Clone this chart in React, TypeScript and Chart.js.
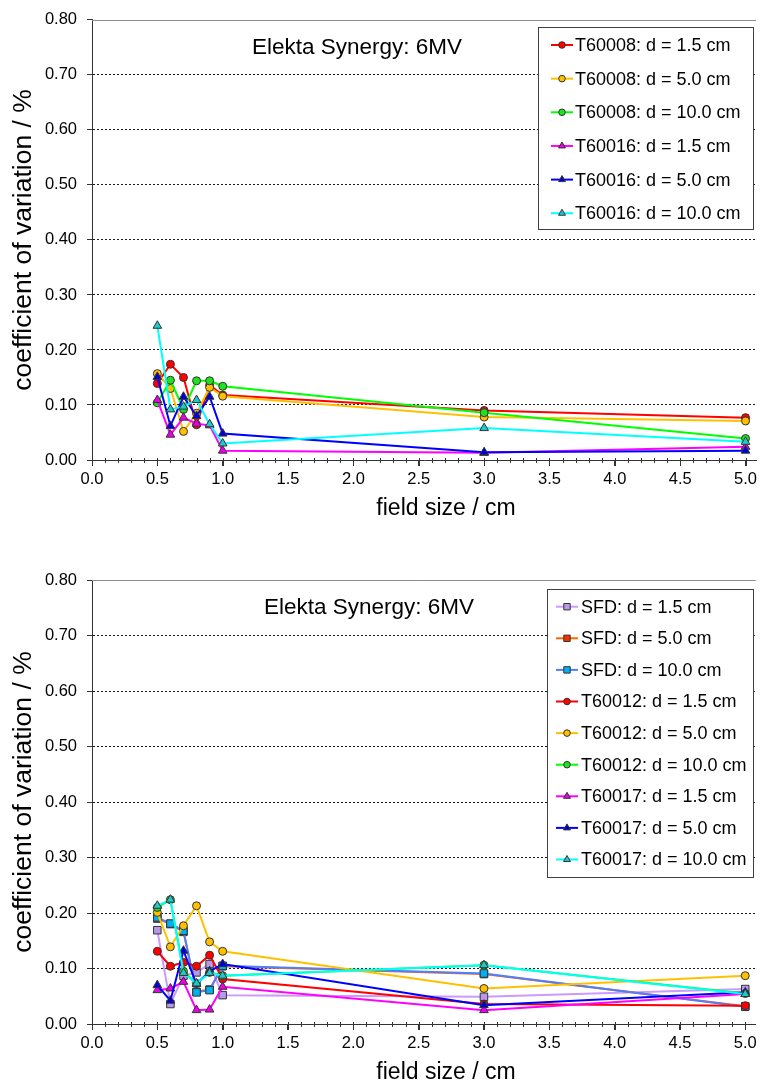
import React, { useEffect, useRef } from "react";
import { Chart, registerables } from "chart.js";
Chart.register(...registerables);

const FONT = "'Liberation Sans', Arial, sans-serif";
Chart.defaults.font.family = FONT;

// ---------- data ----------
const fieldSizes = [0.5, 0.6, 0.7, 0.8, 0.9, 1.0, 3.0, 5.0];
const xTickValues = [0, 0.5, 1.0, 1.5, 2.0, 2.5, 3.0, 3.5, 4.0, 4.5, 5.0];
const xTickLabels = ["0.0", "0.5", "1.0", "1.5", "2.0", "2.5", "3.0", "3.5", "4.0", "4.5", "5.0"];
const yTickValues = [0, 0.1, 0.2, 0.3, 0.4, 0.5, 0.6, 0.7, 0.8];
const yTickLabels = ["0.00", "0.10", "0.20", "0.30", "0.40", "0.50", "0.60", "0.70", "0.80"];

const chartTitle = "Elekta Synergy: 6MV";
const xAxisTitle = "field size / cm";
const yAxisTitle = "coefficient of variation / %";

// top chart
const topLabels = [
  "T60008: d = 1.5 cm",
  "T60008: d = 5.0 cm",
  "T60008: d = 10.0 cm",
  "T60016: d = 1.5 cm",
  "T60016: d = 5.0 cm",
  "T60016: d = 10.0 cm",
];
const t60008_d15 = [0.139, 0.174, 0.150, 0.064, 0.136, 0.118, 0.090, 0.077];
const t60008_d50 = [0.157, 0.130, 0.052, 0.085, 0.132, 0.116, 0.078, 0.071];
const t60008_d100 = [0.104, 0.145, 0.092, 0.144, 0.144, 0.134, 0.086, 0.039];
const t60016_d15 = [0.109, 0.046, 0.077, 0.066, 0.063, 0.017, 0.013, 0.024];
const t60016_d50 = [0.151, 0.062, 0.115, 0.080, 0.115, 0.048, 0.014, 0.017];
const t60016_d100 = [0.244, 0.092, 0.097, 0.109, 0.065, 0.030, 0.058, 0.033];

// bottom chart
const bottomLabels = [
  "SFD: d = 1.5 cm",
  "SFD: d = 5.0 cm",
  "SFD: d = 10.0 cm",
  "T60012: d = 1.5 cm",
  "T60012: d = 5.0 cm",
  "T60012: d = 10.0 cm",
  "T60017: d = 1.5 cm",
  "T60017: d = 5.0 cm",
  "T60017: d = 10.0 cm",
];
const sfd_d15 = [0.169, 0.036, 0.087, 0.093, 0.108, 0.052, 0.049, 0.063];
const sfd_d50 = [0.190, 0.180, 0.166, 0.058, 0.062, 0.104, 0.090, 0.032];
const sfd_d100 = [0.192, 0.181, 0.168, 0.057, 0.061, 0.105, 0.091, 0.031];
const t60012_d15 = [0.131, 0.104, 0.111, 0.104, 0.124, 0.081, 0.036, 0.033];
const t60012_d50 = [0.201, 0.139, 0.177, 0.213, 0.148, 0.131, 0.064, 0.087];
const t60012_d100 = [0.210, 0.224, 0.095, 0.073, 0.093, 0.087, 0.106, 0.055];
const t60017_d15 = [0.061, 0.064, 0.076, 0.025, 0.026, 0.067, 0.025, 0.054];
const t60017_d50 = [0.070, 0.042, 0.132, 0.072, 0.095, 0.108, 0.034, 0.057];
const t60017_d100 = [0.213, 0.224, 0.092, 0.073, 0.092, 0.087, 0.106, 0.054];

// ---------- styles ----------
type Sty = { line: string; fill: string; shape: string; r: number };
const S = {
  red: { line: "#ff0000", fill: "#ff0000", shape: "circle", r: 4 },
  gold: { line: "#ffc000", fill: "#ffc000", shape: "circle", r: 4 },
  green: { line: "#00ff00", fill: "#20e020", shape: "circle", r: 4 },
  magenta: { line: "#ff00ff", fill: "#e800e8", shape: "triangle", r: 5 },
  blue: { line: "#0000ff", fill: "#0000d8", shape: "triangle", r: 5 },
  cyan: { line: "#00ffff", fill: "#20c8c8", shape: "triangle", r: 5 },
  lav: { line: "#cc99ff", fill: "#b898e8", shape: "rect", r: 5.3 },
  orange: { line: "#ff6600", fill: "#f03000", shape: "rect", r: 5.3 },
  sky: { line: "#4f7fff", fill: "#00b0f0", shape: "rect", r: 5.3 },
};
const EDGE = "#333333";

function makeDataset(label: string, values: number[], st: Sty, idx: number) {
  return {
    label,
    data: fieldSizes.map((x, i) => ({ x, y: values[i] })),
    borderColor: st.line,
    backgroundColor: st.fill,
    pointBackgroundColor: st.fill,
    pointBorderColor: EDGE,
    pointBorderWidth: 1,
    pointStyle: st.shape,
    pointRadius: st.r,
    pointHoverRadius: st.r,
    borderWidth: 2,
    tension: 0,
    fill: false,
    order: -idx,
    _sty: st,
  };
}

function drawMarker(ctx: CanvasRenderingContext2D, shape: string, x: number, y: number, r: number, fill: string) {
  ctx.save();
  ctx.beginPath();
  if (shape === "circle") {
    ctx.arc(x, y, r, 0, Math.PI * 2);
  } else if (shape === "triangle") {
    let a = 0;
    ctx.moveTo(x + Math.sin(a) * r, y - Math.cos(a) * r);
    a += (2 * Math.PI) / 3;
    ctx.lineTo(x + Math.sin(a) * r, y - Math.cos(a) * r);
    a += (2 * Math.PI) / 3;
    ctx.lineTo(x + Math.sin(a) * r, y - Math.cos(a) * r);
    ctx.closePath();
  } else {
    ctx.rect(x - r, y - r, 2 * r, 2 * r);
  }
  ctx.fillStyle = fill;
  ctx.fill();
  ctx.lineWidth = 1;
  ctx.strokeStyle = EDGE;
  ctx.stroke();
  ctx.restore();
}

const decorPlugin = {
  id: "decor",
  beforeDatasetsDraw(chart: any, _args: any, o: any) {
    const { ctx, chartArea } = chart;
    const xs = chart.scales.x;
    ctx.save();
    // top border of plot area
    ctx.strokeStyle = "#8c8c8c";
    ctx.lineWidth = 1;
    ctx.beginPath();
    ctx.moveTo(chartArea.left, Math.round(chartArea.top) + 0.5);
    ctx.lineTo(chartArea.right, Math.round(chartArea.top) + 0.5);
    ctx.stroke();
    // minor ticks on x axis
    ctx.strokeStyle = "#333";
    const yb = Math.round(chartArea.bottom);
    for (let k = 0; k <= 50; k++) {
      const px = Math.round(xs.getPixelForValue(k / 10)) + 0.5;
      const major = k % 5 === 0;
      ctx.beginPath();
      ctx.moveTo(px, yb - 2);
      ctx.lineTo(px, yb + (major ? 6 : 3));
      ctx.stroke();
    }
    ctx.restore();
  },
  afterDraw(chart: any, _args: any, o: any) {
    const { ctx, chartArea } = chart;
    ctx.save();
    ctx.fillStyle = "#000";
    // chart title
    ctx.font = `22.5px ${FONT}`;
    ctx.textAlign = "left";
    ctx.textBaseline = "middle";
    ctx.fillText(chartTitle, o.titleX, o.titleY);
    // x axis title
    ctx.font = `23px ${FONT}`;
    ctx.textAlign = "center";
    ctx.fillText(xAxisTitle, o.xTitleX, o.xTitleY);
    // y axis title
    ctx.save();
    ctx.font = `26.5px ${FONT}`;
    ctx.translate(o.yTitleX, (chartArea.top + chartArea.bottom) / 2);
    ctx.rotate(-Math.PI / 2);
    ctx.fillText(yAxisTitle, 0, 0);
    ctx.restore();
    // legend box
    const L = o.legend;
    ctx.fillStyle = "#fff";
    ctx.fillRect(L.left, L.top, L.right - L.left, L.bottom - L.top);
    ctx.strokeStyle = "#404040";
    ctx.lineWidth = 1;
    ctx.strokeRect(Math.round(L.left) + 0.5, Math.round(L.top) + 0.5, Math.round(L.right - L.left), Math.round(L.bottom - L.top));
    ctx.font = `18px ${FONT}`;
    ctx.textAlign = "left";
    ctx.textBaseline = "middle";
    chart.data.datasets.forEach((ds: any, i: number) => {
      const y = L.row0 + i * L.step;
      const st = ds._sty;
      ctx.strokeStyle = st.line;
      ctx.lineWidth = 2;
      ctx.beginPath();
      ctx.moveTo(L.lineX1, y);
      ctx.lineTo(L.lineX2, y);
      ctx.stroke();
      const mr = st.shape === "circle" ? 3.3 : st.shape === "triangle" ? 4 : 3.2;
      drawMarker(ctx, st.shape, (L.lineX1 + L.lineX2) / 2, y, mr, st.fill);
      ctx.fillStyle = "#000";
      ctx.fillText(ds.label, L.textX, y + 1);
    });
    ctx.restore();
  },
};

function buildConfig(datasets: any[], dims: any) {
  return {
    type: "line",
    data: { datasets },
    plugins: [decorPlugin],
    options: {
      responsive: false,
      animation: false,
      devicePixelRatio: 1,
      layout: { padding: { left: 0, right: 1, top: dims.padTop, bottom: dims.padBottom } },
      plugins: {
        legend: { display: false },
        tooltip: { enabled: false },
        title: { display: false },
        decor: dims.decor,
      },
      scales: {
        x: {
          type: "linear",
          min: 0,
          max: 5.08,
          afterBuildTicks: (s: any) => {
            s.ticks = xTickValues.map((v) => ({ value: v }));
          },
          afterFit: (s: any) => {
            s.height = dims.xHeight;
            s.paddingLeft = 0;
            s.paddingRight = 0;
          },
          ticks: {
            autoSkip: false,
            maxRotation: 0,
            minRotation: 0,
            padding: 4,
            color: "#000",
            font: { size: 16.5, family: FONT },
            callback: (_v: any, i: number) => xTickLabels[i],
          },
          grid: { drawOnChartArea: false, drawTicks: true, tickLength: 6, tickColor: "#333" },
          border: { color: "#333", width: 1 },
        },
        y: {
          type: "linear",
          min: 0,
          max: 0.8,
          afterBuildTicks: (s: any) => {
            s.ticks = yTickValues.map((v) => ({ value: v }));
          },
          afterFit: (s: any) => {
            s.width = 92;
          },
          ticks: {
            padding: 10,
            color: "#000",
            font: { size: 16.5, family: FONT },
            callback: (_v: any, i: number) => yTickLabels[i],
          },
          grid: {
            color: (c: any) =>
              c.tick && (c.index === 0 || c.index === yTickValues.length - 1) ? "rgba(0,0,0,0)" : "#1a1a1a",
            lineWidth: 1,
            tickLength: 5,
            tickColor: "#333",
            tickBorderDash: [],
          },
          border: { color: "#333", width: 1, dash: [2, 2] },
        },
      },
    },
  };
}

const topStyles = [S.red, S.gold, S.green, S.magenta, S.blue, S.cyan];
const topValues = [t60008_d15, t60008_d50, t60008_d100, t60016_d15, t60016_d50, t60016_d100];
const bottomStyles = [S.lav, S.orange, S.sky, S.red, S.gold, S.green, S.magenta, S.blue, S.cyan];
const bottomValues = [sfd_d15, sfd_d50, sfd_d100, t60012_d15, t60012_d50, t60012_d100, t60017_d15, t60017_d50, t60017_d100];

function ChartCanvas({ top, height, make }: { top: number; height: number; make: () => any }) {
  const ref = useRef<HTMLCanvasElement | null>(null);
  useEffect(() => {
    const chart = new Chart(ref.current as HTMLCanvasElement, make());
    return () => chart.destroy();
  }, []);
  return (
    <canvas
      ref={ref}
      width={762}
      height={height}
      style={{ position: "absolute", left: 0, top, width: 762, height, display: "block" }}
    />
  );
}

export default function App() {
  const makeTop = () =>
    buildConfig(
      topLabels.map((l, i) => makeDataset(l, topValues[i], topStyles[i], i)),
      {
        padTop: 17,
        padBottom: 10,
        xHeight: 60,
        decor: {
          titleX: 252,
          titleY: 48,
          xTitleX: 446,
          xTitleY: 509,
          yTitleX: 24,
          legend: { left: 538, top: 27, right: 753, bottom: 229, row0: 45, step: 33.65, lineX1: 551, lineX2: 573, textX: 575 },
        },
      }
    );
  const makeBottom = () =>
    buildConfig(
      bottomLabels.map((l, i) => makeDataset(l, bottomValues[i], bottomStyles[i], i)),
      {
        padTop: 50,
        padBottom: 7,
        xHeight: 50,
        decor: {
          titleX: 264,
          titleY: 78,
          xTitleX: 446,
          xTitleY: 543,
          yTitleX: 24,
          legend: { left: 547, top: 59, right: 753, bottom: 347, row0: 76.7, step: 31.6, lineX1: 556, lineX2: 578, textX: 581 },
        },
      }
    );
  return (
    <div style={{ position: "absolute", left: 0, top: 0, width: 762, height: 1081, background: "#fff", overflow: "hidden" }}>
      <ChartCanvas top={0} height={530} make={makeTop} />
      <ChartCanvas top={530} height={551} make={makeBottom} />
    </div>
  );
}
